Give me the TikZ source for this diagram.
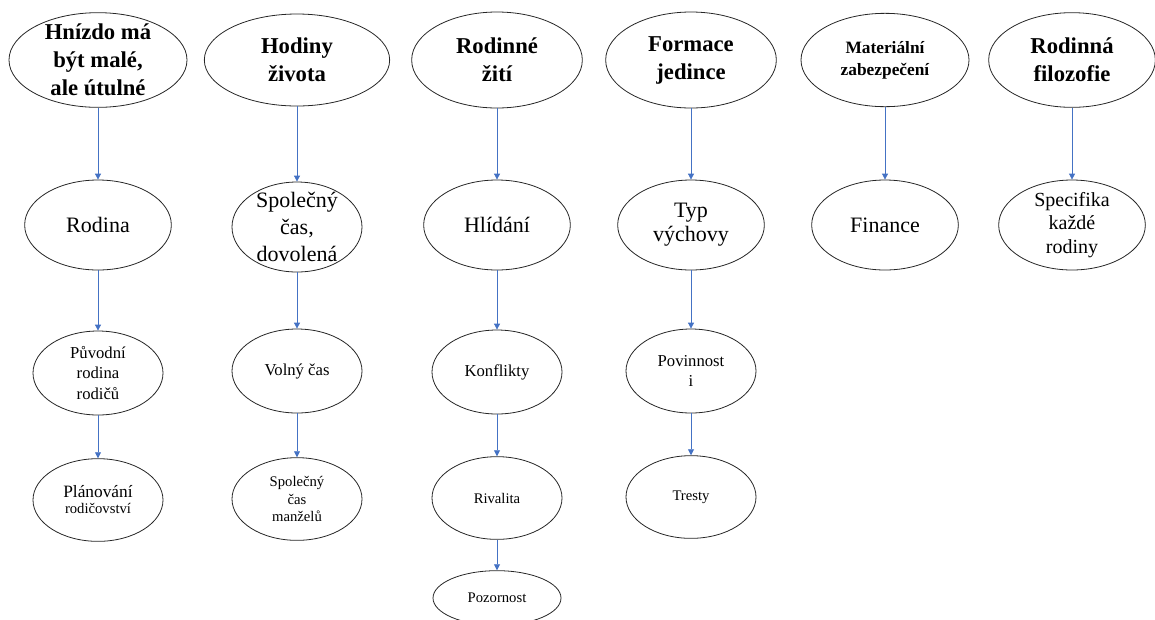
\documentclass[tikz,border=0pt]{standalone}
\usepackage{fontspec}
\setmainfont{Liberation Serif}
\usepackage{xcolor}
\usetikzlibrary{shapes, arrows, arrows.meta, positioning, calc}
\definecolor{linkblue}{HTML}{4472C4}

\tikzset{
  oval/.style={ellipse, draw=black!85, line width=0.6pt, inner sep=0pt},
  topoval/.style={oval, minimum width=128pt, minimum height=71pt},
  midoval/.style={oval, minimum width=110pt, minimum height=67.5pt},
  lowoval/.style={oval, minimum width=97.5pt, minimum height=63pt},
  toptext/.style={align=center, font=\bfseries\fontsize{17}{21}\selectfont},
  midtext/.style={align=center, font=\fontsize{16.5}{20}\selectfont},
  lowtext/.style={align=center, font=\fontsize{12.5}{15.5}\selectfont},
  smalltext/.style={align=center, font=\fontsize{11}{12.8}\selectfont},
  link/.style={->, draw=linkblue, line width=0.6pt}
}

\begin{document}
\begin{tikzpicture}[x=0.75pt,y=-0.75pt,>={Triangle[length=4.5pt,width=4.5pt]}]
  \useasboundingbox (0,0) rectangle (1155,619);
  \clip (0,0) rectangle (1155,619);

  % top row
  \node[topoval, minimum width=133.5pt, label={[toptext]center:{Hnízdo má\\být malé,\\ale útulné}}] (nest) at (98,60) {};
  \node[topoval, minimum width=139pt, minimum height=69pt, label={[toptext]center:{Hodiny\\života}}] (hours) at (297,60) {};
  \node[topoval, minimum height=72pt, label={[toptext]center:{Rodinné\\žití}}] (living) at (497,60) {};
  \node[topoval, minimum height=72pt, label={[toptext]center:{Formace\\jedince}}] (forming) at (691,60) {};
  \node[topoval, minimum width=126pt, minimum height=70pt, label={[align=center, font=\bfseries\fontsize{13}{16.5}\selectfont]center:{Materiální\\zabezpečení}}] (material) at (885,60) {};
  \node[topoval, minimum width=125pt, label={[toptext]center:{Rodinná\\filozofie}}] (philosophy) at (1072,60) {};

  % second row
  \node[midoval, label={[midtext]center:Rodina}] (family) at (98,225) {};
  \node[midoval, minimum width=97.5pt, label={[midtext]center:{Společný\\čas,\\dovolená}}] (together) at (297,227) {};
  \node[midoval, label={[midtext]center:Hlídání}] (babysit) at (497,225) {};
  \node[midoval, label={[align=center, font=\fontsize{16.5}{18}\selectfont]center:{Typ\\výchovy}}] (upbringing) at (691,225) {};
  \node[midoval, label={[midtext]center:Finance}] (finance) at (885,225) {};
  \node[midoval, label={[align=center, font=\fontsize{15}{17.5}\selectfont]center:{Specifika\\každé\\rodiny}}] (specifics) at (1072,225) {};

  % third row
  \node[lowoval, label={[lowtext]center:{Původní\\rodina\\rodičů}}] (origin) at (98,373) {};
  \node[lowoval, label={[lowtext]center:Volný čas}] (freetime) at (297,371) {};
  \node[lowoval, label={[lowtext]center:Konflikty}] (conflicts) at (497,372) {};
  \node[lowoval, label={[lowtext]center:{Povinnost\\i}}] (duties) at (691,371) {};

  % fourth row
  \node[lowoval, minimum height=62pt, label={[align=center]center:{\fontsize{13}{14.5}\selectfont Plánování\\\fontsize{11}{13}\selectfont rodičovství}}] (planning) at (98,500) {};
  \node[lowoval, minimum height=62pt, label={[smalltext]center:{Společný\\čas\\manželů}}] (couple) at (297,499) {};
  \node[lowoval, minimum height=62pt, label={[smalltext]center:Rivalita}] (rivalry) at (497,498) {};
  \node[lowoval, minimum height=62pt, label={[smalltext]center:Tresty}] (punish) at (691,497) {};
  \node[lowoval, minimum width=96pt, minimum height=41pt, label={[smalltext]center:Pozornost}] (attention) at (497,598) {};

  % links
  \draw[link] (nest) -- (family);
  \draw[link] (family) -- (origin);
  \draw[link] (origin) -- (planning);
  \draw[link] (hours) -- (together);
  \draw[link] (together) -- (freetime);
  \draw[link] (freetime) -- (couple);
  \draw[link] (living) -- (babysit);
  \draw[link] (babysit) -- (conflicts);
  \draw[link] (conflicts) -- (rivalry);
  \draw[link] (rivalry) -- (attention);
  \draw[link] (forming) -- (upbringing);
  \draw[link] (upbringing) -- (duties);
  \draw[link] (duties) -- (punish);
  \draw[link] (material) -- (finance);
  \draw[link] (philosophy) -- (specifics);
\end{tikzpicture}
\end{document}
